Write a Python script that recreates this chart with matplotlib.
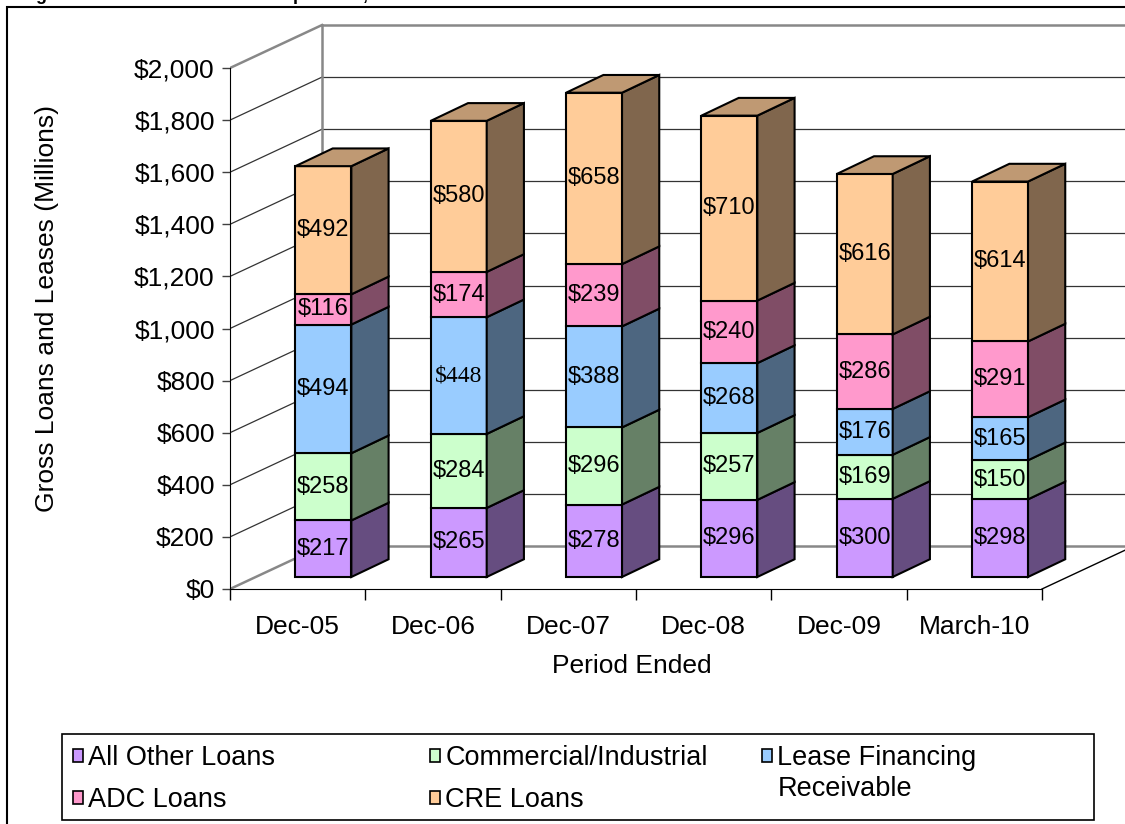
import numpy as np
import matplotlib.pyplot as plt
from matplotlib.patches import Polygon, Rectangle, Patch

plt.rcParams['font.family'] = ['Liberation Sans', 'DejaVu Sans']

# data (millions)
periods = ['Dec-05', 'Dec-06', 'Dec-07', 'Dec-08', 'Dec-09', 'March-10']
all_other = [217, 265, 278, 296, 300, 298]
comm_ind = [258, 284, 296, 257, 169, 150]
lease = [494, 448, 388, 268, 176, 165]
adc = [116, 174, 239, 240, 286, 291]
cre = [492, 580, 658, 710, 616, 614]

names = ['All Other Loans', 'Commercial/Industrial', 'Lease Financing',
         'ADC Loans', 'CRE Loans']
series = [all_other, comm_ind, lease, adc, cre]
colors = ['#CC99FF', '#CCFFCC', '#99CCFF', '#FF99CC', '#FFCC99']
yticks = np.arange(0, 2001, 200)


def shade(c, f):
    r, g, b = (int(c[i:i + 2], 16) / 255 for i in (1, 3, 5))
    return (r * f, g * f, b * f)


# fake 3d geometry (wall depth and bar depth in data units)
DX, DY = 0.68, 165
f1 = 0.28
w = 0.413
BDX, BDY = 0.275, 68

fig = plt.figure(figsize=(11.25, 8.24), dpi=100)
ax = fig.add_axes([230 / 1125, 224 / 824, 895 / 1125, 585 / 824])
ax.set_xlim(0, 895 / 135.33)
ax.set_ylim(-11 / 0.2605, 574 / 0.2605)

# walls
xmax = ax.get_xlim()[1]
for v in yticks:
    edge = v in (0, 2000)
    col = '#888888' if edge else '#333333'
    lw = 1.8 if edge else 0.9
    ax.plot([0, DX], [v, v + DY], color=col, lw=lw, zorder=1)
    ax.plot([DX, xmax], [v + DY, v + DY], color=col, lw=lw, zorder=1)
ax.plot([DX, DX], [DY, 2000 + DY], color='#888888', lw=1.8, zorder=1)
ax.plot([6, 6 + DX], [0, DY], color='black', lw=1, zorder=1)

# stacked bars
x_left = np.arange(len(periods)) + 0.5 + f1 * DX - w / 2
base = np.full(len(periods), f1 * DY)
for k, vals in enumerate(series):
    vals = np.array(vals, dtype=float)
    ax.bar(x_left, vals, width=w, bottom=base, align='edge', color=colors[k],
           edgecolor='black', lw=1.5, zorder=3)
    for i in range(len(periods)):
        r = x_left[i] + w
        b, t = base[i], base[i] + vals[i]
        ax.add_patch(Polygon([(r, b), (r + BDX, b + BDY), (r + BDX, t + BDY), (r, t)],
                             closed=True, fc=shade(colors[k], 0.5), ec='black',
                             lw=1.5, zorder=3))
        fam = 'Liberation Serif' if vals[i] == 448 else 'Liberation Sans'
        ax.text(x_left[i] + w / 2, b + vals[i] / 2, f'${int(vals[i])}', ha='center',
                va='center', fontsize=17, family=fam, zorder=5)
    base = base + vals

for i in range(len(periods)):
    l, r, t = x_left[i], x_left[i] + w, base[i]
    ax.add_patch(Polygon([(l, t), (l + BDX, t + BDY), (r + BDX, t + BDY), (r, t)],
                         closed=True, fc=shade(colors[-1], 0.75), ec='black',
                         lw=1.5, zorder=3))

# axes
for s in ['top', 'right']:
    ax.spines[s].set_visible(False)
ax.spines['left'].set_bounds(0, 2000)
ax.spines['bottom'].set_position(('data', 0))
ax.spines['bottom'].set_bounds(0, 6)
ax.set_yticks(yticks)
ax.set_yticklabels([f'${v:,}' for v in yticks])
ax.tick_params(axis='y', length=6, width=1, color='#404040', pad=5, labelsize=19)
ax.set_xticks(np.arange(len(periods)) + 0.5)
ax.set_xticklabels(periods)
ax.tick_params(axis='x', which='major', length=0, pad=18.5, labelsize=19)
ax.set_xticks(np.arange(len(periods) + 1), minor=True)
ax.tick_params(axis='x', which='minor', length=8, width=1, direction='out')

fig.text(47 / 1125, 1 - 309 / 824, 'Gross Loans and Leases (Millions)', rotation=90,
         ha='center', va='center', fontsize=19)
fig.text(632 / 1125, 1 - 666 / 824, 'Period Ended', ha='center', va='center', fontsize=19)
fig.text(20 / 1125, 1.0, 'Figure 4: Total Gross Loan Composition, 2005 to 2010',
         fontsize=13, fontweight='bold', va='baseline', ha='left')

# legend, three columns
blank = Patch(facecolor='none', edgecolor='none')
cols = [([0, 3], 73, 0.6), ([1, 4], 430, 0.6), ([2, None], 762, 0.18)]
for idx, xp, sp in cols:
    hs = [Patch(facecolor=colors[k], edgecolor='black', lw=1.2) if k is not None else blank
          for k in idx]
    labs = [names[k] if k is not None else 'Receivable' for k in idx]
    fig.legend(hs, labs, loc='upper left',
               bbox_to_anchor=(xp / 1125, 1 - 745 / 824), frameon=False,
               borderpad=0, borderaxespad=0, fontsize=19.5, handlelength=0.37,
               handleheight=0.37, handletextpad=0.2, labelspacing=sp)

fig.add_artist(Rectangle((62 / 1125, 1 - 820 / 824), (1094 - 62) / 1125, 86 / 824,
                         transform=fig.transFigure, fill=False, ec='black', lw=1.2))
fig.add_artist(Rectangle((7 / 1125, -0.05), 1.1, 1.05 - 7 / 824,
                         transform=fig.transFigure, fill=False, ec='black', lw=1.5))

fig.savefig('out.png', dpi=100)
